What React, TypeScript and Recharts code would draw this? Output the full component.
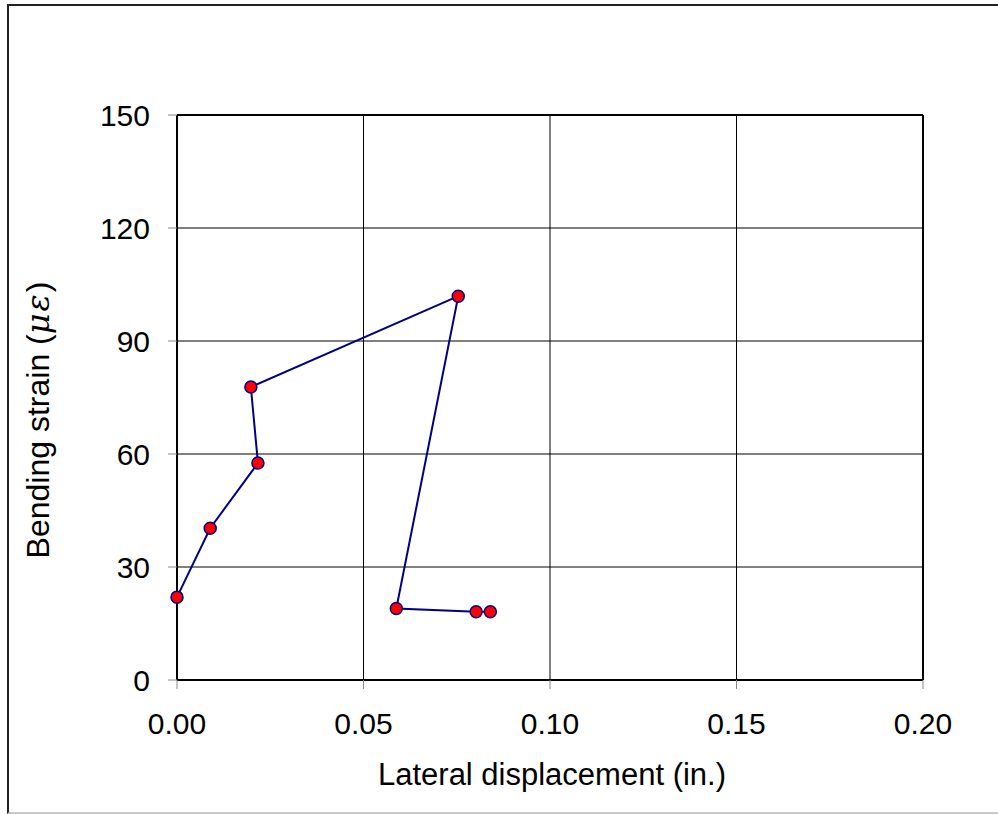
import React from "react";
import {
  CartesianGrid,
  ReferenceLine,
  Scatter,
  ScatterChart,
  XAxis,
  YAxis,
} from "recharts";

// lateral displacement (in.) vs bending strain, in test order
const displacement = [0.0, 0.0089, 0.0217, 0.0198, 0.0754, 0.0588, 0.0802, 0.0840];
const strain = [22.0, 40.3, 57.6, 77.8, 101.9, 19.0, 18.1, 18.1];

const xTicks = [0, 0.05, 0.1, 0.15, 0.2];
const yTicks = [0, 30, 60, 90, 120, 150];

const points = displacement.map((x, i) => ({ x, y: strain[i] }));

const FONT = '"Liberation Sans", Arial, sans-serif';
const NAVY = "#000080";

function Marker(props: any) {
  const { cx, cy } = props;
  if (cx == null || cy == null) return null;
  return <circle cx={cx} cy={cy} r={6} fill="#ff0000" stroke={NAVY} strokeWidth={1.5} />;
}

function YTitle() {
  const x = 49;
  const y = 420;
  return (
    <text
      x={x}
      y={y}
      transform={`rotate(-90 ${x} ${y})`}
      textAnchor="middle"
      fontFamily={FONT}
      fontSize={32}
      fill="#000"
    >
      Bending strain (
      <tspan fontFamily='"DejaVu Serif", serif' fontStyle="italic" fontSize={32} letterSpacing={2}>
        με
      </tspan>
      )
    </text>
  );
}

export default function App() {
  return (
    <div style={{ position: "absolute", left: 0, top: 0, width: 998, height: 814, background: "#fff", overflow: "hidden" }}>
      <div
        style={{
          position: "absolute",
          left: 7,
          top: 4,
          width: 1000,
          height: 806,
          borderTop: "2px solid #222",
          borderLeft: "2px solid #222",
          borderBottom: "2px solid #c8c8c8",
        }}
      />
      <div style={{ position: "absolute", left: 0, top: 0 }}>
        <ScatterChart width={998} height={814} margin={{ top: 115, right: 75, bottom: 0, left: 0 }}>
          <CartesianGrid stroke="#000" strokeWidth={1} horizontalValues={yTicks} verticalValues={xTicks} />
          <XAxis
            type="number"
            dataKey="x"
            domain={[0, 0.2]}
            ticks={xTicks}
            tickFormatter={(v: number) => v.toFixed(2)}
            height={134}
            tickSize={9}
            tickMargin={24}
            axisLine={{ stroke: "#000", strokeWidth: 2 }}
            tickLine={{ stroke: "#888" }}
            tick={{ fill: "#000", fontFamily: FONT, fontSize: 30 }}
            label={{
              value: "Lateral displacement (in.)",
              position: "insideBottom",
              offset: 29,
              dx: 2,
              fill: "#000",
              fontFamily: FONT,
              fontSize: 31,
            }}
          />
          <YAxis
            type="number"
            dataKey="y"
            domain={[0, 150]}
            ticks={yTicks}
            width={177}
            tickSize={9}
            tickMargin={18}
            axisLine={{ stroke: "#000", strokeWidth: 2 }}
            tickLine={{ stroke: "#888" }}
            tick={{ fill: "#000", fontFamily: FONT, fontSize: 30 }}
            label={<YTitle />}
          />
          <ReferenceLine y={150} stroke="#000" strokeWidth={2} />
          <ReferenceLine x={0.2} stroke="#000" strokeWidth={2} />
          <Scatter
            data={points}
            line={{ stroke: NAVY, strokeWidth: 2 }}
            lineType="joint"
            shape={<Marker />}
            isAnimationActive={false}
          />
        </ScatterChart>
      </div>
    </div>
  );
}
